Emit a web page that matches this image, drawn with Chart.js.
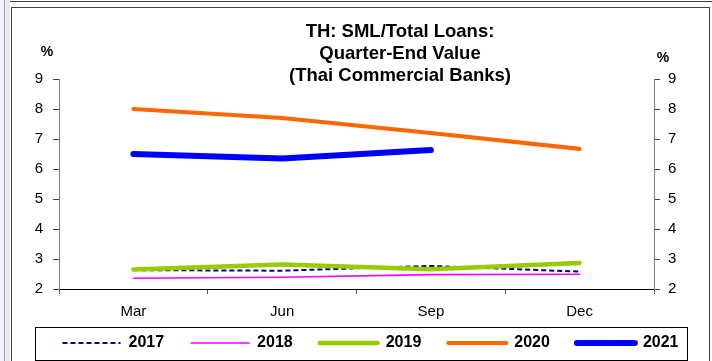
<!DOCTYPE html>
<html>
<head>
<meta charset="utf-8">
<title>TH: SML/Total Loans</title>
<script src="https://cdn.jsdelivr.net/npm/chart.js@4.4.1/dist/chart.umd.min.js"></script>
<style>
  html, body { margin: 0; padding: 0; background: #fff; }
  body { width: 712px; height: 361px; position: relative; overflow: hidden; }
  #edge { position: absolute; left: 0; top: 0; width: 10px; height: 361px; background: linear-gradient(to right, #f6f6fb, #e6e6f3); }
  #edge-line { position: absolute; left: 4px; top: 0; width: 1px; height: 361px; background: #a0a0ac; }
  #top-line { position: absolute; left: 10px; top: 1px; width: 702px; height: 1px; background: #404040; }
  #frame { position: absolute; left: 11px; top: 7px; width: 697px; height: 360px; border: 1px solid #404040; background: #fff; }
  #legend-box { position: absolute; left: 35px; top: 327px; width: 651px; height: 32px; border: 1px solid #000; }
  #myChart { position: absolute; left: 0; top: 0; }
</style>
</head>
<body>
<div id="edge"></div>
<div id="edge-line"></div>
<div id="top-line"></div>
<div id="frame"></div>
<div id="legend-box"></div>
<canvas id="myChart" width="712" height="361"></canvas>
<script>
const quarters = ['Mar', 'Jun', 'Sep', 'Dec'];
const years = ['2017', '2018', '2019', '2020', '2021'];
const sml2017 = [2.63, 2.61, 2.77, 2.58];
const sml2018 = [2.36, 2.39, 2.48, 2.49];
const sml2019 = [2.65, 2.82, 2.66, 2.87];
const sml2020 = [8.0, 7.7, 7.2, 6.67];
const sml2021 = [6.5, 6.35, 6.63];
const titleLines = ['TH: SML/Total Loans:', 'Quarter-End Value', '(Thai Commercial Banks)'];
const UNIT_LABEL = '%';

const Y_MIN = 2;
const Y_MAX = 9;

const FONT_FAMILY = '"Liberation Sans", Arial, sans-serif';
const COLOR_2017 = '#000080';
const COLOR_2018 = '#ff00ff';
const COLOR_2019 = '#99cc00';
const COLOR_2020 = '#ff6600';
const COLOR_2021 = '#0000ff';

// chart area runs from x=59 to x=654 and y=79 to y=289
const PAD_LEFT = 35;
const PAD_RIGHT = 6;
const PAD_TOP = 79;
const LEFT_AXIS_WIDTH = 24;
const RIGHT_AXIS_WIDTH = 52;
const X_AXIS_HEIGHT = 19;
const X_LABEL_ROOM = 36;

const TITLE_X = 400;
const TITLE_Y = 32;
const TITLE_LINE_HEIGHT = 22;

Chart.defaults.font.family = FONT_FAMILY;
Chart.defaults.color = '#000';

/**
 * Draws the three line heading and the unit marks above both value axes.
 */
const chartHeadings = {
  id: 'chartHeadings',
  afterDraw(chart) {
    const c = chart.ctx;
    const area = chart.chartArea;
    c.save();
    c.fillStyle = '#000';
    c.textAlign = 'center';
    c.textBaseline = 'middle';
    c.font = 'bold 18.5px ' + FONT_FAMILY;
    titleLines.forEach((line, i) => {
      c.fillText(line, TITLE_X, TITLE_Y + i * TITLE_LINE_HEIGHT);
    });
    c.font = 'bold 14px ' + FONT_FAMILY;
    c.fillText(UNIT_LABEL, chart.scales.y.right - 12, area.top - 27);
    c.fillText(UNIT_LABEL, chart.scales.y1.left + 9, area.top - 21);
    c.restore();
  },
};

/**
 * The category axis is kept short so the legend sits low; its label clip
 * box is stretched afterwards so the month names are not cut off.
 */
const xLabelRoom = {
  id: 'xLabelRoom',
  afterLayout(chart) {
    const x = chart.scales.x;
    x.bottom = x.top + X_LABEL_ROOM;
  },
};

/**
 * Builds one line series; later years get a lower order so they sit on top.
 */
function makeSeries(label, data, color, width, order, dash) {
  return {
    label: label,
    data: data,
    borderColor: color,
    backgroundColor: color,
    borderWidth: width,
    borderDash: dash || [],
    borderCapStyle: dash ? 'butt' : 'round',
    borderJoinStyle: 'round',
    pointRadius: 0,
    tension: 0,
    yAxisID: 'y',
    order: order,
  };
}

/**
 * Legend entries as lines, keeping each series' dash and cap.
 */
function legendLabels(chart) {
  const base = Chart.defaults.plugins.legend.labels.generateLabels(chart);
  return base.map((item) => {
    const ds = chart.data.datasets[item.datasetIndex];
    item.lineDash = ds.borderDash;
    item.lineCap = ds.borderCapStyle;
    item.lineWidth = ds.borderWidth;
    item.strokeStyle = ds.borderColor;
    return item;
  });
}

const ctx = document.getElementById('myChart');

new Chart(ctx, {
  type: 'line',
  data: {
    labels: quarters,
    datasets: [
      makeSeries(years[0], sml2017, COLOR_2017, 2, 5, [5, 3]),
      makeSeries(years[1], sml2018, COLOR_2018, 1.6, 4),
      makeSeries(years[2], sml2019, COLOR_2019, 4.5, 3),
      makeSeries(years[3], sml2020, COLOR_2020, 4.2, 2),
      makeSeries(years[4], sml2021, COLOR_2021, 6, 1),
    ],
  },
  options: {
    responsive: false,
    animation: false,
    devicePixelRatio: 1,
    layout: {
      padding: { left: PAD_LEFT, right: PAD_RIGHT, top: PAD_TOP, bottom: 0 },
    },
    plugins: {
      title: { display: false },
      tooltip: { enabled: false },
      legend: {
        position: 'bottom',
        labels: {
          usePointStyle: true,
          pointStyle: 'line',
          pointStyleWidth: 58,
          padding: 27,
          color: '#000',
          font: { size: 16, weight: 'bold' },
          generateLabels: legendLabels,
          sort: (a, b) => a.datasetIndex - b.datasetIndex,
        },
      },
    },
    scales: {
      x: {
        offset: true,
        grid: { offset: true, drawOnChartArea: false, tickLength: 5, color: '#606060' },
        border: { color: '#000', width: 1 },
        ticks: { color: '#000', font: { size: 15 }, padding: 9, maxRotation: 0 },
        afterFit: (scale) => { scale.height = X_AXIS_HEIGHT; },
      },
      y: {
        position: 'left',
        min: Y_MIN,
        max: Y_MAX,
        grid: { drawOnChartArea: false, tickLength: 6, color: '#404040' },
        border: { color: '#808080', width: 1 },
        ticks: { stepSize: 1, color: '#000', font: { size: 15 }, padding: 10 },
        afterFit: (scale) => { scale.width = LEFT_AXIS_WIDTH; },
      },
      y1: {
        position: 'right',
        min: Y_MIN,
        max: Y_MAX,
        grid: { drawOnChartArea: false, tickLength: 6, color: '#404040' },
        border: { color: '#808080', width: 1 },
        ticks: { stepSize: 1, color: '#000', font: { size: 15 }, padding: 8 },
        afterFit: (scale) => { scale.width = RIGHT_AXIS_WIDTH; },
      },
    },
  },
  plugins: [chartHeadings, xLabelRoom],
});
</script>
</body>
</html>
